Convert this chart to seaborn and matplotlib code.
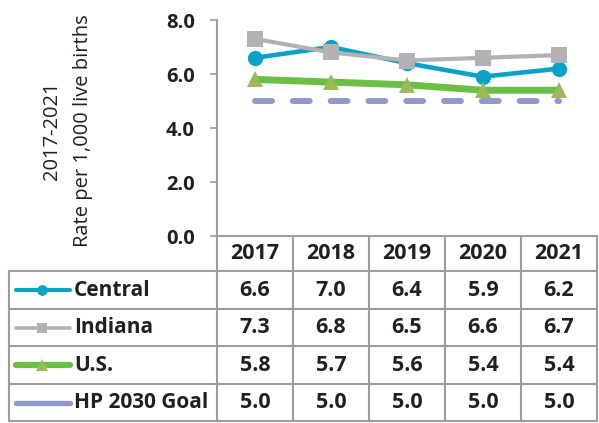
import matplotlib
matplotlib.use("Agg")
import matplotlib.pyplot as plt
import seaborn as sns
import pandas as pd

# data
years = ["2017", "2018", "2019", "2020", "2021"]
central = [6.6, 7.0, 6.4, 5.9, 6.2]
indiana = [7.3, 6.8, 6.5, 6.6, 6.7]
us = [5.8, 5.7, 5.6, 5.4, 5.4]
goal = [5.0, 5.0, 5.0, 5.0, 5.0]
series_names = ["Central", "Indiana", "U.S.", "HP 2030 Goal"]
y_ticks = [0.0, 2.0, 4.0, 6.0, 8.0]

sns.set_style("white")
plt.rcParams["font.family"] = ["Open Sans", "DejaVu Sans"]

txt = "#231F20"
grid = "#9C9C9C"

# styles per series
styles = {
    "Central": dict(color="#0AA3C8", lw=3.3, marker="o", ms=11, mfc="#0AA3C8"),
    "Indiana": dict(color="#B2B2B4", lw=3.0, marker="s", ms=11, mfc="#B2B2B4"),
    "U.S.": dict(color="#6CBF46", lw=5.0, marker="^", ms=11.5, mfc="#9BBB59"),
    "HP 2030 Goal": dict(color="#8E9ACB", lw=4.3, marker=None, ms=0, mfc="none"),
}
goal_dash = (0, (2.83, 3.5))

df = pd.DataFrame({"year": years * 4,
                   "rate": central + indiana + us + goal,
                   "series": sum([[n] * len(years) for n in series_names], [])})

W, H = 599, 423
fig = plt.figure(figsize=(W / 100, H / 100), dpi=100)

x0, x1 = 217, 597
ytop, ybot = 20, 236
ax = fig.add_axes([x0 / W, 1 - ybot / H, (x1 - x0) / W, (ybot - ytop) / H])

for name in series_names:
    st = styles[name]
    sub = df[df["series"] == name]
    sns.lineplot(data=sub, x="year", y="rate", ax=ax, color=st["color"],
                 linewidth=st["lw"], marker=st["marker"], markersize=st["ms"],
                 markerfacecolor=st["mfc"], markeredgewidth=0,
                 legend=False, sort=False)
    if name == "HP 2030 Goal":
        ax.lines[-1].set_linestyle(goal_dash)
        ax.lines[-1].set_dash_capstyle("round")

ax.set_xlim(-0.5, 4.5)
ax.set_ylim(0, 8)
ax.set_yticks(y_ticks)
ax.set_yticklabels([f"{v:.1f}" for v in y_ticks], fontsize=14.5, fontweight="bold", color=txt)
ax.set_xticks([])
ax.set_xlabel("")
ax.set_ylabel("")
for s in ["top", "right", "bottom"]:
    ax.spines[s].set_visible(False)
ax.spines["left"].set_color(grid)
ax.spines["left"].set_linewidth(1.5)
ax.tick_params(axis="y", length=5, width=1.2, color=grid, direction="out", left=True, pad=11)
ax.patch.set_alpha(0)

fig.text(52 / W, 1 - 131 / H, "2017-2021", rotation=90, ha="center", va="center",
         fontsize=14.5, color=txt)
fig.text(83 / W, 1 - 131 / H, "Rate per 1,000 live births", rotation=90, ha="center",
         va="center", fontsize=14.5, color=txt)

# data table overlay
tab = fig.add_axes([0, 0, 1, 1])
tab.set_xlim(0, W)
tab.set_ylim(H, 0)
tab.axis("off")
tab.patch.set_alpha(0)

col_edges = [x0 + i * (x1 - x0) / 5 for i in range(6)]
row_edges = [236, 271.5, 309, 346.5, 384, 421.5]
tl = 9

tab.plot([x0, x1], [row_edges[0]] * 2, color=grid, lw=1.5)
for xe in col_edges[1:]:
    tab.plot([xe, xe], [row_edges[0], row_edges[-1]], color=grid, lw=1.5)
tab.plot([x0, x0], [row_edges[0], row_edges[-1]], color=grid, lw=1.5)
tab.plot([tl, tl], [row_edges[1], row_edges[-1]], color=grid, lw=1.5)
for ye in row_edges[1:]:
    tab.plot([tl, x1], [ye, ye], color=grid, lw=1.5)

centers = [(col_edges[i] + col_edges[i + 1]) / 2 for i in range(5)]
hy = (row_edges[0] + row_edges[1]) / 2
for cx, yr in zip(centers, years):
    tab.text(cx, hy, yr, ha="center", va="center", fontsize=15.5,
             fontweight="bold", color=txt)

values = [central, indiana, us, goal]
for r, (name, vals) in enumerate(zip(series_names, values)):
    cy = (row_edges[r + 1] + row_edges[r + 2]) / 2
    st = styles[name]
    tab.plot([16, 70], [cy, cy], color=st["color"], lw=st["lw"] * 0.9,
             solid_capstyle="round")
    if st["marker"]:
        tab.plot([42], [cy], marker=st["marker"], ms=st["ms"] * 0.7,
                 color=st["mfc"], mew=0)
    tab.text(74, cy, name, ha="left", va="center", fontsize=15,
             fontweight="bold", color=txt)
    for cx, v in zip(centers, vals):
        tab.text(cx, cy, f"{v:.1f}", ha="center", va="center", fontsize=15.5,
                 fontweight="bold", color=txt)

fig.savefig("out.png", dpi=100)
